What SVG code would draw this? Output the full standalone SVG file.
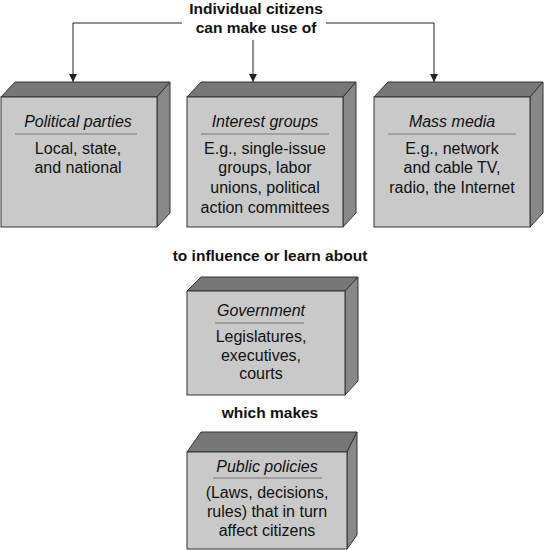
<svg xmlns="http://www.w3.org/2000/svg" width="545" height="550" viewBox="0 0 545 550">
<style>
.front{fill:#c9c9c9;stroke:#333;stroke-width:1}
.top{fill:#777;stroke:#333;stroke-width:1}
.side{fill:#888;stroke:#333;stroke-width:1}
.div{stroke:#777;stroke-width:1}
text{font-family:"Liberation Sans",Arial,sans-serif;font-size:16px;fill:#111;text-anchor:middle}
.h{font-style:italic}
.b{font-weight:bold;font-size:15.5px}
.conn{fill:none;stroke:#222;stroke-width:1}
</style>
<defs>
<marker id="ah" viewBox="0 0 10 10" refX="10" refY="5" markerWidth="8" markerHeight="8" orient="auto" markerUnits="userSpaceOnUse">
<path d="M0,0 L10,5 L0,10 z" fill="#222"/>
</marker>
</defs>
<rect width="545" height="550" fill="#fff"/>
<g id="title">
<text class="b" x="256" y="14">Individual citizens</text>
<text class="b" x="256" y="33">can make use of</text>
</g>
<g id="connectors">
<path class="conn" d="M182,23 H73 V82" marker-end="url(#ah)"/>
<path class="conn" d="M253,40 V82" marker-end="url(#ah)"/>
<path class="conn" d="M326,23 H434 V82" marker-end="url(#ah)"/>
</g>
<g id="political-parties">
<polygon class="top" points="1,97 15,82 170,82 157,97"/>
<polygon class="side" points="157,97 170,82 170,213 157,227"/>
<rect class="front" x="1" y="97" width="156" height="130"/>
<text class="h" x="78" y="127">Political parties</text>
<line class="div" x1="15" y1="134" x2="137" y2="134"/>
<text x="78" y="154">Local, state,</text>
<text x="78" y="173">and national</text>
</g>
<g id="interest-groups">
<polygon class="top" points="187,97 201,82 356,82 343,97"/>
<polygon class="side" points="343,97 356,82 356,213 343,227"/>
<rect class="front" x="187" y="97" width="156" height="130"/>
<text class="h" x="265" y="127">Interest groups</text>
<line class="div" x1="201" y1="134" x2="329" y2="134"/>
<text x="265" y="154">E.g., single-issue</text>
<text x="265" y="173">groups, labor</text>
<text x="265" y="193">unions, political</text>
<text x="265" y="213">action committees</text>
</g>
<g id="mass-media">
<polygon class="top" points="374,97 388,82 543,82 530,97"/>
<polygon class="side" points="530,97 543,82 543,213 530,227"/>
<rect class="front" x="374" y="97" width="156" height="130"/>
<text class="h" x="452" y="127">Mass media</text>
<line class="div" x1="388" y1="134" x2="516" y2="134"/>
<text x="452" y="154">E.g., network</text>
<text x="452" y="173">and cable TV,</text>
<text x="452" y="193">radio, the Internet</text>
</g>
<g id="label-influence">
<text class="b" x="270" y="261">to influence or learn about</text>
</g>
<g id="government">
<polygon class="top" points="187,291 201,277 358,277 345,291"/>
<polygon class="side" points="345,291 358,277 358,381 345,395"/>
<rect class="front" x="187" y="291" width="158" height="104"/>
<text class="h" x="261" y="316">Government</text>
<line class="div" x1="215" y1="323" x2="304" y2="323"/>
<text x="261" y="342">Legislatures,</text>
<text x="261" y="361">executives,</text>
<text x="261" y="379">courts</text>
</g>
<g id="label-makes">
<text class="b" x="270" y="418">which makes</text>
</g>
<g id="public-policies">
<polygon class="top" points="187,452 201,432 357,432 347,452"/>
<polygon class="side" points="347,452 357,432 357,535 347,549"/>
<rect class="front" x="187" y="452" width="160" height="97"/>
<text class="h" x="267" y="472">Public policies</text>
<line class="div" x1="213" y1="478" x2="322" y2="478"/>
<text x="267" y="498">(Laws, decisions,</text>
<text x="267" y="517">rules) that in turn</text>
<text x="267" y="536">affect citizens</text>
</g>
</svg>
